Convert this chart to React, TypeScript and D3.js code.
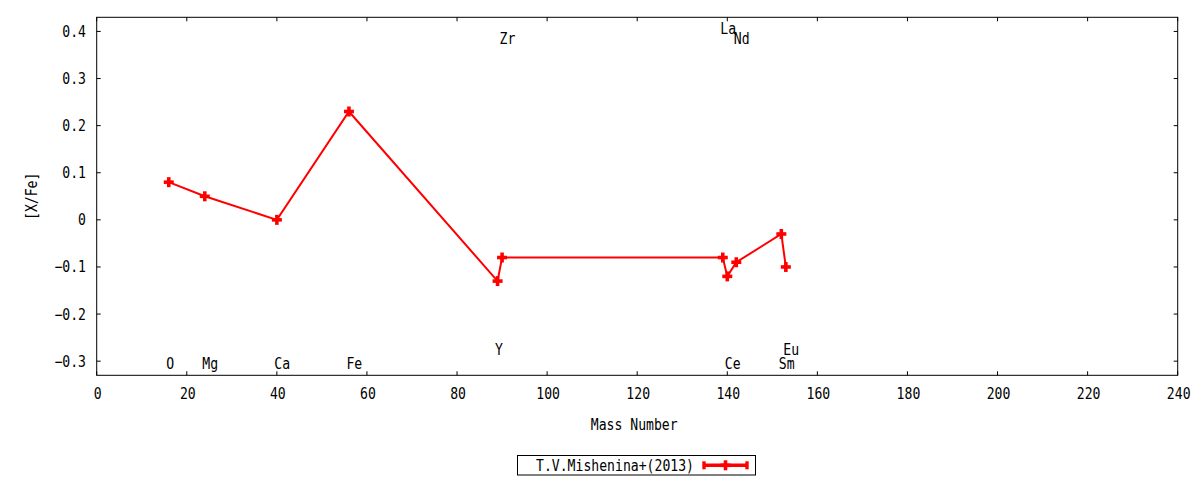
import * as d3 from 'd3'

// Abundance pattern, T.V.Mishenina+(2013)
const elements = ['O', 'Mg', 'Ca', 'Fe', 'Y', 'Zr', 'La', 'Ce', 'Nd', 'Sm', 'Eu']
const massNumbers = [16, 24, 40, 56, 89, 90, 139, 140, 142, 152, 153]
const xFe = [0.08, 0.05, 0.0, 0.23, -0.13, -0.08, -0.08, -0.12, -0.09, -0.03, -0.1]
// where each element name is written (y in [X/Fe] units)
const labelY = [-0.3, -0.3, -0.3, -0.3, -0.27, 0.39, 0.41, -0.3, 0.39, -0.3, -0.27]

const xTicks = [0, 20, 40, 60, 80, 100, 120, 140, 160, 180, 200, 220, 240]
const yTicks = [-0.3, -0.2, -0.1, 0, 0.1, 0.2, 0.3, 0.4]
const seriesName = 'T.V.Mishenina+(2013)'

const W = 1200
const H = 480
const ML = 96.7
const MR = 1177.7
const MT = 17.3
const MB = 375.3
const CHAR = 7.9
const FONT = '"DejaVu Sans Mono", monospace'
const RED = '#ff0000'

// monospace text squeezed to the narrow gnuplot glyph width
function T(props: {
  x: number
  y: number
  text: string
  anchor?: 'start' | 'middle' | 'end'
  transform?: string
}) {
  return (
    <text
      x={props.x}
      y={props.y}
      textAnchor={props.anchor ?? 'start'}
      fontFamily={FONT}
      fontSize={15.5}
      fill="#000"
      textLength={props.text.length * CHAR}
      lengthAdjust="spacingAndGlyphs"
      transform={props.transform}
    >
      {props.text}
    </text>
  )
}

function Plus({ x, y }: { x: number; y: number }) {
  return (
    <g stroke={RED} strokeWidth={3.6}>
      <line x1={x - 5} y1={y} x2={x + 5} y2={y} />
      <line x1={x} y1={y - 5} x2={x} y2={y + 5} />
    </g>
  )
}

export default function App() {
  const x = d3.scaleLinear().domain([0, 240]).range([ML, MR])
  const y = d3.scaleLinear().domain([-0.33, 0.43]).range([MB, MT])

  const pts = massNumbers.map((m, i) => [x(m), y(xFe[i])] as [number, number])
  const line = d3.line()(pts) ?? ''

  const legY = 465.3
  const legX1 = 704
  const legX2 = 747

  return (
    <svg
      width={W}
      height={H}
      style={{ position: 'absolute', left: 0, top: 0, background: '#fff' }}
    >
      <rect x={0} y={0} width={W} height={H} fill="#fff" />

      {/* ticks (inward, mirrored) */}
      {xTicks.map((t) => (
        <g key={`xt${t}`} stroke="#000" strokeWidth={1}>
          <line x1={x(t)} y1={MB} x2={x(t)} y2={MB - 4} />
          <line x1={x(t)} y1={MT} x2={x(t)} y2={MT + 4} />
        </g>
      ))}
      {yTicks.map((t) => (
        <g key={`yt${t}`} stroke="#000" strokeWidth={1}>
          <line x1={ML} y1={y(t)} x2={ML + 4} y2={y(t)} />
          <line x1={MR} y1={y(t)} x2={MR - 4} y2={y(t)} />
        </g>
      ))}

      {/* tick labels */}
      {xTicks.map((t) => (
        <T key={`xl${t}`} x={x(t) + 1} y={398.5} text={String(t)} anchor="middle" />
      ))}
      {yTicks.map((t) => (
        <T
          key={`yl${t}`}
          x={86}
          y={y(t) + 5.5}
          text={t === 0 ? '0' : d3.format('.1f')(t)}
          anchor="end"
        />
      ))}

      {/* element names */}
      {elements.map((el, i) => (
        <T key={`el${el}`} x={x(massNumbers[i]) - 2.5} y={y(labelY[i]) + 7.5} text={el} />
      ))}

      {/* data */}
      <path d={line} fill="none" stroke={RED} strokeWidth={2} />
      {pts.map(([px, py], i) => (
        <Plus key={`p${i}`} x={px} y={py} />
      ))}

      {/* frame */}
      <rect
        x={ML}
        y={MT}
        width={MR - ML}
        height={MB - MT}
        fill="none"
        stroke="#000"
        strokeWidth={1}
      />

      {/* axis titles */}
      <T x={(ML + MR) / 2 - 3} y={430} text="Mass Number" anchor="middle" />
      <T
        x={0}
        y={0}
        text="[X/Fe]"
        anchor="middle"
        transform={`translate(37,${(MT + MB) / 2}) rotate(-90)`}
      />

      {/* legend */}
      <rect x={517.5} y={455.5} width={238} height={19.5} fill="none" stroke="#000" strokeWidth={1} />
      <T x={536} y={470.5} text={seriesName} />
      <g stroke={RED} strokeWidth={3.4}>
        <line x1={legX1} y1={legY} x2={legX2} y2={legY} />
        <line x1={legX1} y1={legY - 4} x2={legX1} y2={legY + 4} />
        <line x1={legX2} y1={legY - 4} x2={legX2} y2={legY + 4} />
      </g>
      <Plus x={(legX1 + legX2) / 2} y={legY} />
    </svg>
  )
}
